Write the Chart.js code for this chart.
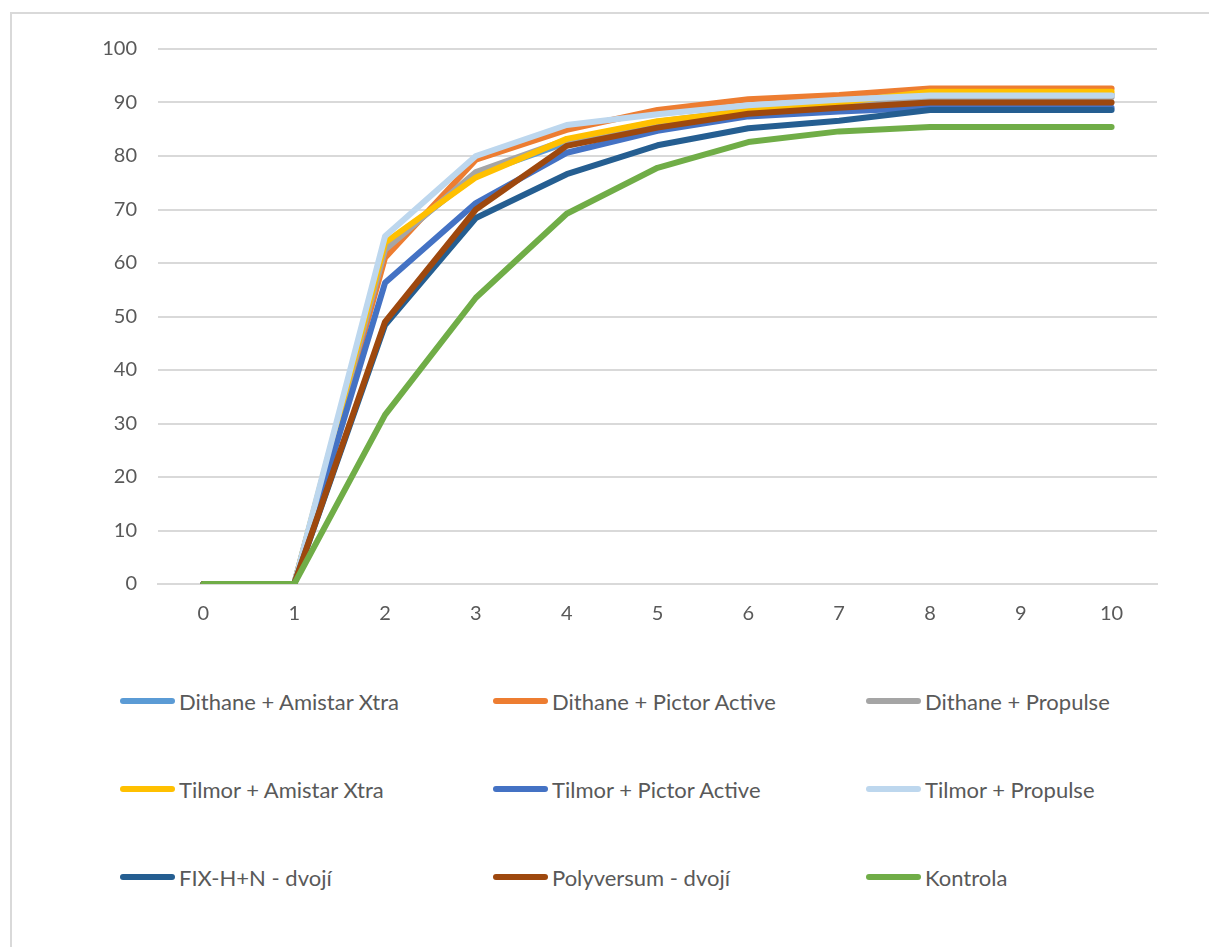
<!DOCTYPE html>
<html>
<head>
<meta charset="utf-8">
<script src="https://cdn.jsdelivr.net/npm/chart.js@4"></script>
<style>
  body { margin: 0; background: #fff; font-family: Lato, "Open Sans", sans-serif; }
  .frame { position: absolute; left: 10px; top: 12px; width: 1400px; height: 1200px; border-left: 2px solid #d9d9d9; border-top: 2px solid #d9d9d9; }
  .wrap { position: absolute; left: 0; top: 0; width: 1209px; height: 640px; }
  .legend { position: absolute; left: 0; top: 0; }
  .item { position: absolute; display: flex; align-items: center; height: 30px; color: #595959; font-size: 22px; white-space: nowrap; }
  .item span.mark { display: inline-block; width: 55px; height: 6px; border-radius: 3px; margin-right: 4px; }
</style>
</head>
<body>
<div class="frame"></div>
<div class="wrap"><canvas id="myChart"></canvas></div>
<div class="legend" id="legend"></div>
<script>
let days = ['0', '1', '2', '3', '4', '5', '6', '7', '8', '9', '10'];

let dithaneAmistar = [0, 0, 63, 76.5, 82.5, 86, 88, 89.5, 91.5, 91.5, 91.5];
let dithanePictor = [0, 0, 61, 79.3, 84.9, 88.6, 90.6, 91.4, 92.6, 92.6, 92.6];
let dithanePropulse = [0, 0, 62.5, 77, 83, 86.4, 88.6, 89.8, 91, 91, 91];
let tilmorAmistar = [0, 0, 63.8, 76, 83.2, 86.5, 88.4, 90, 92, 92, 92];
let tilmorPictor = [0, 0, 56.3, 71.2, 80.6, 84.7, 87.4, 88.3, 89, 89, 89];
let tilmorPropulse = [0, 0, 65, 80, 85.8, 87.8, 89.5, 90.5, 91.3, 91.3, 91.3];
let fixHN = [0, 0, 48.4, 68.4, 76.6, 82, 85.2, 86.6, 88.6, 88.6, 88.6];
let polyversum = [0, 0, 49, 70, 81.9, 85.3, 87.9, 89, 90, 90, 90];
let kontrola = [0, 0, 31.6, 53.5, 69.2, 77.8, 82.6, 84.6, 85.4, 85.4, 85.4];

let seriesNames = ['Dithane + Amistar Xtra', 'Dithane + Pictor Active', 'Dithane + Propulse',
  'Tilmor + Amistar Xtra', 'Tilmor + Pictor Active', 'Tilmor + Propulse',
  'FIX-H+N - dvojí', 'Polyversum - dvojí', 'Kontrola'];
let seriesData = [dithaneAmistar, dithanePictor, dithanePropulse, tilmorAmistar, tilmorPictor,
  tilmorPropulse, fixHN, polyversum, kontrola];
let seriesColors = ['#5B9BD5', '#ED7D31', '#A5A5A5', '#FFC000', '#4472C4', '#BDD7EE', '#255E91', '#9E480E', '#70AD47'];

let yTicks = [0, 10, 20, 30, 40, 50, 60, 70, 80, 90, 100];

let chartCanvas = document.getElementById('myChart');
let ctx = chartCanvas.getContext('2d');

// Excel draws later series on top, chart.js the other way round -> use order
let datasets = seriesNames.map((name, i) => ({
  label: name,
  data: seriesData[i],
  borderColor: seriesColors[i],
  backgroundColor: seriesColors[i],
  borderWidth: 6,
  borderCapStyle: 'round',
  borderJoinStyle: 'round',
  pointRadius: 0,
  tension: 0,
  fill: false,
  order: seriesNames.length - i
}));

new Chart(ctx, {
  type: 'line',
  data: { labels: days, datasets: datasets },
  options: {
    responsive: true,
    maintainAspectRatio: false,
    animation: false,
    layout: { padding: { left: 60, top: 49, right: 52, bottom: 6 } },
    plugins: { legend: { display: false }, tooltip: { enabled: false } },
    scales: {
      x: {
        offset: true,
        grid: { display: false, drawTicks: false },
        border: { color: '#d9d9d9', width: 2 },
        ticks: { color: '#595959', font: { family: 'Lato', size: 20 }, padding: 18, maxRotation: 0 },
        afterFit: (scale) => { scale.height = 50; }
      },
      y: {
        min: 0,
        max: 100,
        afterBuildTicks: (axis) => { axis.ticks = yTicks.map(v => ({ value: v })); },
        grid: { color: '#d9d9d9', lineWidth: 2, drawTicks: false },
        border: { display: false },
        ticks: { color: '#595959', font: { family: 'Lato', size: 20 }, padding: 21 },
        afterFit: (scale) => { scale.width = 98; }
      }
    }
  }
});

// legend as 3 fixed columns like in excel
let legendBox = document.getElementById('legend');
let colX = [120, 493, 866];
let rowY = [701, 789, 877];
seriesNames.forEach((name, i) => {
  let item = document.createElement('div');
  item.className = 'item';
  item.style.left = colX[i % 3] + 'px';
  item.style.top = (rowY[Math.floor(i / 3)] - 15) + 'px';
  item.innerHTML = `<span class="mark" style="background:${seriesColors[i]}"></span>${name}`;
  legendBox.appendChild(item);
});
</script>
</body>
</html>
